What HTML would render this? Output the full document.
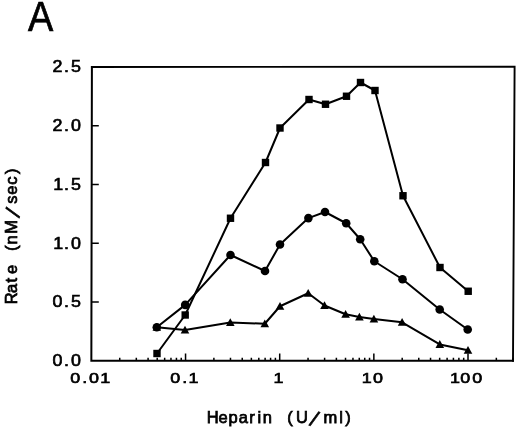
<!DOCTYPE html>
<html><head><meta charset="utf-8"><title>A</title>
<style>html,body{margin:0;padding:0;background:#fff}svg{display:block}text{font-family:"Liberation Sans",sans-serif;fill:#000}</style></head>
<body>
<svg width="520" height="430" viewBox="0 0 520 430">
<rect width="520" height="430" fill="#fff"/>
<g stroke="#000" fill="none" stroke-linecap="square">
<path d="M91.9,67.0 L91.35,360.65 L513.0,360.75" stroke-width="2.0"/>
<path d="M91.9,67.0 L514.6,66.8 L513.0,360.75" stroke-width="1.9"/>
<path d="M91.4,301.94 h7.4 M91.4,243.18 h7.4 M91.4,184.42 h7.4 M91.4,125.66 h7.4 M119.74,360.7 v-2.9 M136.32,360.7 v-2.9 M148.08,360.7 v-2.9 M157.21,360.7 v-2.9 M164.66,360.7 v-2.9 M170.97,360.7 v-2.9 M176.43,360.7 v-2.9 M181.24,360.7 v-2.9 M185.55,360.7 v-7.2 M213.89,360.7 v-2.9 M230.47,360.7 v-2.9 M242.23,360.7 v-2.9 M251.36,360.7 v-2.9 M258.81,360.7 v-2.9 M265.12,360.7 v-2.9 M270.58,360.7 v-2.9 M275.39,360.7 v-2.9 M279.70,360.7 v-7.2 M308.04,360.7 v-2.9 M324.62,360.7 v-2.9 M336.38,360.7 v-2.9 M345.51,360.7 v-2.9 M352.96,360.7 v-2.9 M359.27,360.7 v-2.9 M364.73,360.7 v-2.9 M369.54,360.7 v-2.9 M373.85,360.7 v-7.2 M402.19,360.7 v-2.9 M418.77,360.7 v-2.9 M430.53,360.7 v-2.9 M439.66,360.7 v-2.9 M447.11,360.7 v-2.9 M453.42,360.7 v-2.9 M458.88,360.7 v-2.9 M463.69,360.7 v-2.9 M468.00,360.7 v-7.2 M496.34,360.7 v-2.9 M512.92,360.7 v-2.9 " stroke-width="1.5" stroke-linecap="butt"/>
</g>
<g stroke="#000" stroke-width="2.0" fill="none" stroke-linejoin="round">
<polyline points="157,353.5 185.2,315 230.5,218.25 265.5,162.5 280,128 309,99.5 325.5,104.25 346.5,96.25 360.5,82.5 375,90.5 403,195.75 440,267.5 468.2,291.25"/>
<polyline points="156.8,327.3 185.2,304.9 230.5,255 265,271 280,244.5 308.4,218.1 325,212 346.2,223.25 360.2,239.25 374.3,261.25 402.5,279.25 439.7,309.5 467.7,329.5"/>
<polyline points="156.8,327.3 185,330 230.3,322.5 264.8,323.75 280,306.25 308.2,293.25 324.5,305.5 345.6,314.25 359.4,317 373.9,319 402.1,322.3 439.8,344.4 468,350.3"/>
</g>
<g fill="#000">
<rect x="153.30" y="349.80" width="7.4" height="7.4"/>
<rect x="181.50" y="311.30" width="7.4" height="7.4"/>
<rect x="226.80" y="214.55" width="7.4" height="7.4"/>
<rect x="261.80" y="158.80" width="7.4" height="7.4"/>
<rect x="276.30" y="124.30" width="7.4" height="7.4"/>
<rect x="305.30" y="95.80" width="7.4" height="7.4"/>
<rect x="321.80" y="100.55" width="7.4" height="7.4"/>
<rect x="342.80" y="92.55" width="7.4" height="7.4"/>
<rect x="356.80" y="78.80" width="7.4" height="7.4"/>
<rect x="371.30" y="86.80" width="7.4" height="7.4"/>
<rect x="399.30" y="192.05" width="7.4" height="7.4"/>
<rect x="436.30" y="263.80" width="7.4" height="7.4"/>
<rect x="464.50" y="287.55" width="7.4" height="7.4"/>
<circle cx="156.8" cy="327.3" r="4.3"/>
<circle cx="185.2" cy="304.9" r="4.3"/>
<circle cx="230.5" cy="255" r="4.3"/>
<circle cx="265" cy="271" r="4.3"/>
<circle cx="280" cy="244.5" r="4.3"/>
<circle cx="308.4" cy="218.1" r="4.3"/>
<circle cx="325" cy="212" r="4.3"/>
<circle cx="346.2" cy="223.25" r="4.3"/>
<circle cx="360.2" cy="239.25" r="4.3"/>
<circle cx="374.3" cy="261.25" r="4.3"/>
<circle cx="402.5" cy="279.25" r="4.3"/>
<circle cx="439.7" cy="309.5" r="4.3"/>
<circle cx="467.7" cy="329.5" r="4.3"/>
<path d="M156.8,323.0 L161.10,330.8 H152.50 Z"/>
<path d="M185,325.7 L189.30,333.5 H180.70 Z"/>
<path d="M230.3,318.2 L234.60,326.0 H226.00 Z"/>
<path d="M264.8,319.45 L269.10,327.25 H260.50 Z"/>
<path d="M280,301.95 L284.30,309.75 H275.70 Z"/>
<path d="M308.2,288.95 L312.50,296.75 H303.90 Z"/>
<path d="M324.5,301.2 L328.80,309.0 H320.20 Z"/>
<path d="M345.6,309.95 L349.90,317.75 H341.30 Z"/>
<path d="M359.4,312.7 L363.70,320.5 H355.10 Z"/>
<path d="M373.9,314.7 L378.20,322.5 H369.60 Z"/>
<path d="M402.1,318.0 L406.40,325.8 H397.80 Z"/>
<path d="M439.8,340.09999999999997 L444.10,347.9 H435.50 Z"/>
<path d="M468,346.0 L472.30,353.8 H463.70 Z"/>
</g>
<text transform="translate(28.0,30.5) scale(0.91,1)" font-size="41.6" stroke="#000" stroke-width="0.7">A</text>
<text transform="translate(0,366.1) scale(1.09,1)" x="52.75 61.01 69.82" y="0" font-size="16.4" text-anchor="middle" stroke="#000" stroke-width="0.65">0.0</text>
<text transform="translate(0,307.34) scale(1.09,1)" x="52.75 61.01 69.82" y="0" font-size="16.4" text-anchor="middle" stroke="#000" stroke-width="0.65">0.5</text>
<text transform="translate(0,248.58) scale(1.09,1)" x="53.49 61.01 69.82" y="0" font-size="16.4" text-anchor="middle" stroke="#000" stroke-width="0.65">1.0</text>
<text transform="translate(0,189.82) scale(1.09,1)" x="53.49 61.01 69.82" y="0" font-size="16.4" text-anchor="middle" stroke="#000" stroke-width="0.65">1.5</text>
<text transform="translate(0,131.06) scale(1.09,1)" x="52.75 61.01 69.82" y="0" font-size="16.4" text-anchor="middle" stroke="#000" stroke-width="0.65">2.0</text>
<text transform="translate(0,72.3) scale(1.09,1)" x="52.75 61.01 69.82" y="0" font-size="16.4" text-anchor="middle" stroke="#000" stroke-width="0.65">2.5</text>
<text transform="translate(0,382.5) scale(1.18,1)" x="63.77 71.82 79.66 89.15" y="0" font-size="15.2" text-anchor="middle" stroke="#000" stroke-width="0.65">0.01</text>
<text transform="translate(0,382.5) scale(1.18,1)" x="148.56 156.61 163.90" y="0" font-size="15.2" text-anchor="middle" stroke="#000" stroke-width="0.65">0.1</text>
<text transform="translate(0,382.5) scale(1.18,1)" x="235.93" y="0" font-size="15.2" text-anchor="middle" stroke="#000" stroke-width="0.65">1</text>
<text transform="translate(0,382.5) scale(1.18,1)" x="310.85 320.34" y="0" font-size="15.2" text-anchor="middle" stroke="#000" stroke-width="0.65">10</text>
<text transform="translate(0,382.5) scale(1.18,1)" x="385.59 394.32 404.49" y="0" font-size="15.2" text-anchor="middle" stroke="#000" stroke-width="0.65">100</text>
<text transform="translate(0,423.2) scale(1.0,1)" x="212.70 223.10 233.10 243.25 251.90 259.40 267.45 278.77 290.10 302.00 314.70 330.25 341.05 347.90" y="0 0 0 0 0 0 0 0 0 0 0 0 0 0" font-size="16.5" text-anchor="middle" stroke="#000" stroke-width="0.75">Heparin (U<tspan font-size="22" rotate="21" dx="-2.9" dy="1.9" stroke-width="0.6">/</tspan>ml)</text>
<text transform="translate(17.2,0) rotate(-90) translate(0,0) scale(1.0,1)" x="-298.40 -288.40 -280.20 -269.40 -258.80 -248.20 -239.80 -226.90 -212.30 -199.50 -190.25 -180.70 -171.20" y="0 0 0 0 0 0 0 0 0 0 0 0 0" font-size="16.5" text-anchor="middle" stroke="#000" stroke-width="0.75">Rate (nM<tspan font-size="22" rotate="21" dx="-2.9" dy="1.9" stroke-width="0.6">/</tspan>sec)</text>
</svg></body></html>
